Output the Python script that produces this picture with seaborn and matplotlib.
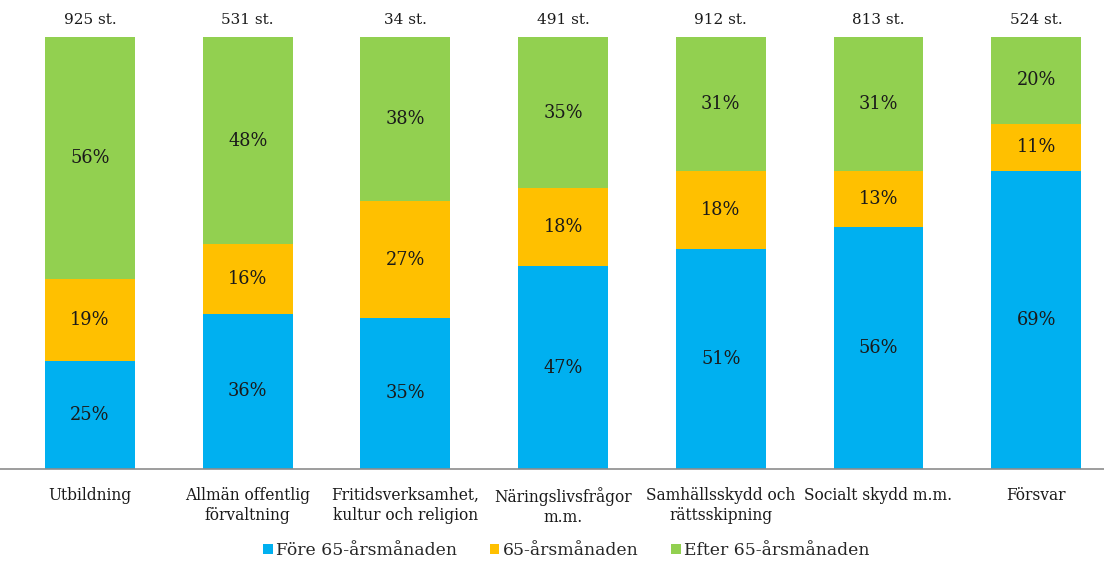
import pandas as pd
import numpy as np
import matplotlib.pyplot as plt
import seaborn as sns

## Data
categories = ['Utbildning', 'Allmän offentlig\nförvaltning', 'Fritidsverksamhet,\nkultur och religion',
              'Näringslivsfrågor\nm.m.', 'Samhällsskydd och\nrättsskipning', 'Socialt skydd m.m.', 'Försvar']
fore = [25, 36, 35, 47, 51, 56, 69]
vid = [19, 16, 27, 18, 18, 13, 11]
efter = [56, 48, 38, 35, 31, 31, 20]
totals = [925, 531, 34, 491, 912, 813, 524]
series_names = ['Före 65-årsmånaden', '65-årsmånaden', 'Efter 65-årsmånaden']
colors = ['#00B0F0', '#FFC000', '#92D050']

df = pd.DataFrame({'kat': categories, 'fore': fore, 'vid': vid, 'efter': efter})
df['c1'] = df['fore']
df['c2'] = df['fore'] + df['vid']
df['c3'] = df['c2'] + df['efter']

sns.set_style('white')
plt.rcParams['font.family'] = ['DejaVu Serif']

fig = plt.figure(figsize=(11.04, 5.63), dpi=100)
ax = fig.add_axes([0.0, 0.167, 1.0, 0.767])

## Stacked bars drawn back to front
for col, c, name in [('c3', colors[2], series_names[2]), ('c2', colors[1], series_names[1]), ('c1', colors[0], series_names[0])]:
    sns.barplot(data=df, x='kat', y=col, color=c, width=0.57, ax=ax, label=name, saturation=1, linewidth=0)

## Segment labels
for i in range(len(categories)):
    bottoms = [0, fore[i], fore[i] + vid[i]]
    for b, v in zip(bottoms, [fore[i], vid[i], efter[i]]):
        ax.text(i, b + v / 2, f'{v}%', ha='center', va='center', fontsize=12.8, color='#1a1a1a')
    ax.text(i, 102.3, f'{totals[i]} st.', ha='center', va='bottom', fontsize=11, color='#1a1a1a')

ax.set_xlim(-0.571, 6.43)
ax.set_ylim(0, 100)
ax.set_xlabel('')
ax.set_ylabel('')
ax.set_yticks([])
ax.tick_params(axis='x', length=0, pad=13, labelsize=11.2, colors='#1a1a1a')
for s in ['top', 'right', 'left']:
    ax.spines[s].set_visible(False)
ax.spines['bottom'].set_color('#8c8c8c')
ax.spines['bottom'].set_linewidth(1.2)

h, l = ax.get_legend_handles_labels()
order = [l.index(n) for n in series_names]
ax.legend([h[k] for k in order], [l[k] for k in order], loc='lower center', bbox_to_anchor=(0.513, -0.245),
          ncol=3, frameon=False, fontsize=12.4, handlelength=0.55, handleheight=0.55, handletextpad=0.2,
          columnspacing=1.9)

fig.savefig('out.png', dpi=100)
